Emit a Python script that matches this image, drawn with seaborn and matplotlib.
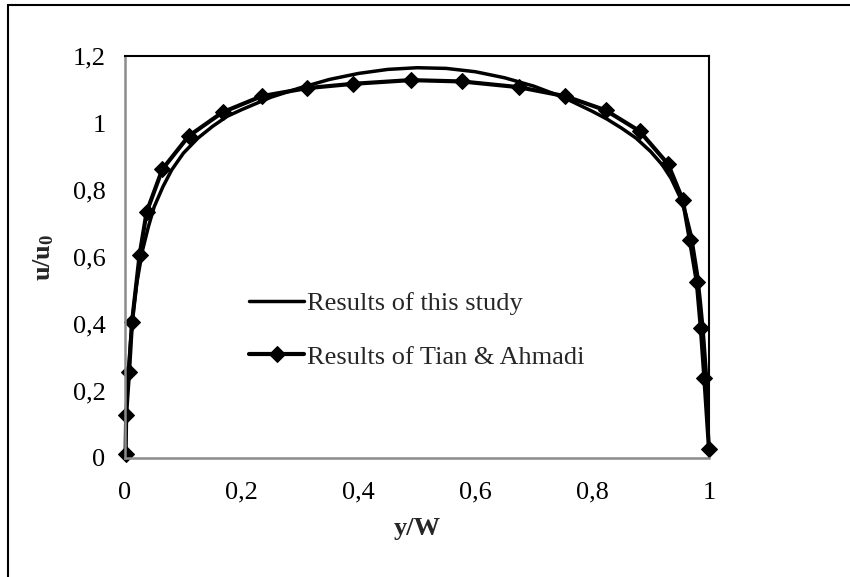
import matplotlib
matplotlib.use("Agg")
import matplotlib.pyplot as plt
from matplotlib.patches import Rectangle
import seaborn as sns

# results of this study (smooth curve)
study_x = [0.0, 0.002, 0.005, 0.01, 0.015, 0.02, 0.03, 0.04, 0.05, 0.065, 0.08, 0.1,
           0.125, 0.15, 0.175, 0.2, 0.25, 0.3, 0.35, 0.4, 0.45, 0.5, 0.55, 0.6, 0.65,
           0.7, 0.75, 0.8, 0.825, 0.85, 0.875, 0.9, 0.92, 0.935, 0.95, 0.96, 0.97,
           0.98, 0.985, 0.99, 0.995, 1.0]
study_y = [0.0, 0.13, 0.24, 0.36, 0.45, 0.52, 0.62, 0.69, 0.75, 0.81, 0.86, 0.91,
           0.955, 0.99, 1.02, 1.04, 1.077, 1.105, 1.13, 1.148, 1.16, 1.165, 1.163, 1.153, 1.135,
           1.11, 1.077, 1.035, 1.012, 0.985, 0.955, 0.915, 0.875, 0.835, 0.78, 0.73, 0.66,
           0.55, 0.47, 0.38, 0.26, 0.09]

# results of Tian & Ahmadi (markers)
tian_x = [0.001, 0.002, 0.007, 0.012, 0.025, 0.037, 0.064, 0.109, 0.167, 0.234, 0.311,
          0.391, 0.489, 0.577, 0.674, 0.754, 0.823, 0.881, 0.930, 0.955, 0.967, 0.979,
          0.986, 0.992, 1.0]
tian_y = [0.012, 0.129, 0.257, 0.405, 0.606, 0.734, 0.862, 0.961, 1.032, 1.08, 1.104,
          1.117, 1.128, 1.124, 1.107, 1.08, 1.038, 0.976, 0.877, 0.771, 0.652, 0.526,
          0.387, 0.239, 0.026]

xticks = [0, 0.2, 0.4, 0.6, 0.8, 1.0]
xtick_labels = ["0", "0,2", "0,4", "0,6", "0,8", "1"]
yticks = [0, 0.2, 0.4, 0.6, 0.8, 1.0, 1.2]
ytick_labels = ["0", "0,2", "0,4", "0,6", "0,8", "1", "1,2"]

sns.set_style("white")
plt.rcParams["font.family"] = ["Liberation Serif", "DejaVu Serif"]
plt.rcParams["mathtext.fontset"] = "custom"
plt.rcParams["mathtext.rm"] = "Liberation Serif"
plt.rcParams["mathtext.bf"] = "Liberation Serif:bold"

fig = plt.figure(figsize=(8.5, 5.77), dpi=100)
ax = fig.add_axes([125 / 850, 1 - 458 / 577, 584 / 850, 402 / 577])

sns.lineplot(x=study_x, y=study_y, ax=ax, color="black", linewidth=2.5,
             label="Results of this study", sort=False, estimator=None)
sns.lineplot(x=tian_x, y=tian_y, ax=ax, color="black", linewidth=3.0,
             marker="D", markersize=8, markeredgecolor="black",
             label="Results of Tian & Ahmadi", sort=False, estimator=None,
             clip_on=False)

ax.set_xlim(0, 1)
ax.set_ylim(0, 1.2)
ax.set_xticks(xticks)
ax.set_xticklabels(xtick_labels)
ax.set_yticks(yticks)
ax.set_yticklabels(ytick_labels)
ax.tick_params(axis="both", direction="in", length=6, width=1.5, color="#8c8c8c",
               labelsize=19, labelcolor="black")
ax.tick_params(axis="x", pad=17)
ax.tick_params(axis="y", pad=14)

for side in ["left", "bottom"]:
    ax.spines[side].set_color("#8c8c8c")
    ax.spines[side].set_linewidth(1.8)
for side in ["top", "right"]:
    ax.spines[side].set_color("black")
    ax.spines[side].set_linewidth(1.5)

ax.set_xlabel("y/W", fontsize=19, fontweight="bold", labelpad=10)
ax.set_ylabel(r"$\mathbf{u/u_0}$", fontsize=19, labelpad=12)

ax.legend(loc="center left", bbox_to_anchor=(249 / 850, 1 - 330 / 577),
          bbox_transform=fig.transFigure, frameon=False, fontsize=19,
          handlelength=2.1, handletextpad=0.1, labelspacing=1.15,
          borderpad=0, borderaxespad=0)

# outer chart border
fig.patches.append(Rectangle((8 / 850, -0.1), 1.2, 1.1 - 5 / 577, fill=False,
                             edgecolor="black", linewidth=1.5,
                             transform=fig.transFigure, figure=fig))

fig.savefig("out.png", dpi=100)
